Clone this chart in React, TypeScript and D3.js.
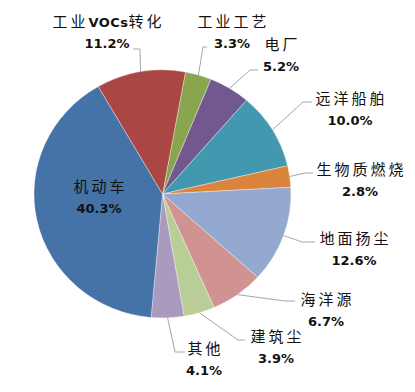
import React from "react";
import * as d3 from "d3";

const categories = ["工业工艺", "电厂", "远洋船舶", "生物质燃烧", "地面扬尘", "海洋源", "建筑尘", "其他", "机动车", "工业VOCs转化"];
const values = [3.3, 5.2, 10.0, 2.8, 12.6, 6.7, 3.9, 4.1, 40.3, 11.2];
const percentLabels = ["3.3%", "5.2%", "10.0%", "2.8%", "12.6%", "6.7%", "3.9%", "4.1%", "40.3%", "11.2%"];

const colors = ["#89A54E", "#71588F", "#4198AF", "#DB843D", "#93A9CF", "#D19392", "#B9CD96", "#A99BBD", "#4572A7", "#AA4643"];

// label layout: text centre x, first baseline y, leader end (near label) and elbow x; inside = no leader
const labelLayout = [
  { x: 232, y: 27, ex: 207, ey: 47, bx: 203 },
  { x: 281, y: 50, ex: 258, ey: 70, bx: 250 },
  { x: 350, y: 104, ex: 312, ey: 102, bx: 303 },
  { x: 360, y: 175, ex: 313, ey: 173, bx: 305 },
  { x: 354, y: 244, ex: 315, ey: 242, bx: 302 },
  { x: 326, y: 305, ex: 295, ey: 301, bx: 285 },
  { x: 276, y: 342, ex: 245, ey: 340, bx: 238 },
  { x: 204, y: 354, ex: 185, ey: 352, bx: 175 },
  { x: 99, y: 192, inside: true },
  { x: 107, y: 27, ex: 133, ey: 49, bx: 140 },
];

const W = 415;
const H = 392;
const cx = 162.5;
const cy = 194;
const R = 128.5;
const yScale = 124 / 128.5;
const startDeg = 10.3;

const cnFont = "'Noto Sans CJK SC', sans-serif";
const numFont = "'DejaVu Sans', sans-serif";

function CnText({ x, y, text }: { x: number; y: number; text: string }) {
  const parts = text.split(/(VOCs)/).filter((p) => p.length > 0);
  return (
    <text x={x + 1.5} y={y} textAnchor="middle" fontFamily={cnFont} fontSize={15} letterSpacing={3} fill="#111">
      {parts.map((p, i) =>
        p === "VOCs" ? (
          <tspan key={i} fontFamily={numFont} fontWeight="bold" fontSize={13} letterSpacing={0.5}>
            {p}
          </tspan>
        ) : (
          <tspan key={i}>{p}</tspan>
        )
      )}
    </text>
  );
}

export default function App() {
  const start = (startDeg * Math.PI) / 180;
  const pie = d3
    .pie<number>()
    .sort(null)
    .value((d) => d)
    .startAngle(start)
    .endAngle(start + 2 * Math.PI);
  const arcs = pie(values);
  const arc = d3.arc<d3.PieArcDatum<number>>().innerRadius(0).outerRadius(R);

  const edgePoint = (a: d3.PieArcDatum<number>) => {
    const m = (a.startAngle + a.endAngle) / 2;
    return [cx + R * Math.sin(m), cy - R * Math.cos(m) * yScale];
  };

  return (
    <svg width={W} height={H} style={{ position: "absolute", left: 0, top: 0, background: "#fff" }}>
      <g transform={`translate(${cx},${cy}) scale(1,${yScale})`}>
        {arcs.map((a, i) => (
          <path key={i} d={arc(a) || ""} fill={colors[i]} stroke="#ffffff" strokeOpacity={0.45} strokeWidth={0.8} />
        ))}
      </g>
      {arcs.map((a, i) => {
        const L = labelLayout[i] as any;
        if (L.inside) return null;
        const [px, py] = edgePoint(a);
        const pts = [
          [px, py],
          [L.bx, L.ey],
          [L.ex, L.ey],
        ];
        return (
          <polyline
            key={"l" + i}
            points={pts.map((p) => p.join(",")).join(" ")}
            fill="none"
            stroke="#A6A6A6"
            strokeWidth={1}
          />
        );
      })}
      {arcs.map((a, i) => {
        const L = labelLayout[i];
        return (
          <g key={"t" + i}>
            <CnText x={L.x} y={L.y} text={categories[i]} />
            <text
              x={L.x}
              y={L.y + 21}
              textAnchor="middle"
              fontFamily={numFont}
              fontWeight="bold"
              fontSize={13}
              fill="#111"
            >
              {percentLabels[i]}
            </text>
          </g>
        );
      })}
    </svg>
  );
}
